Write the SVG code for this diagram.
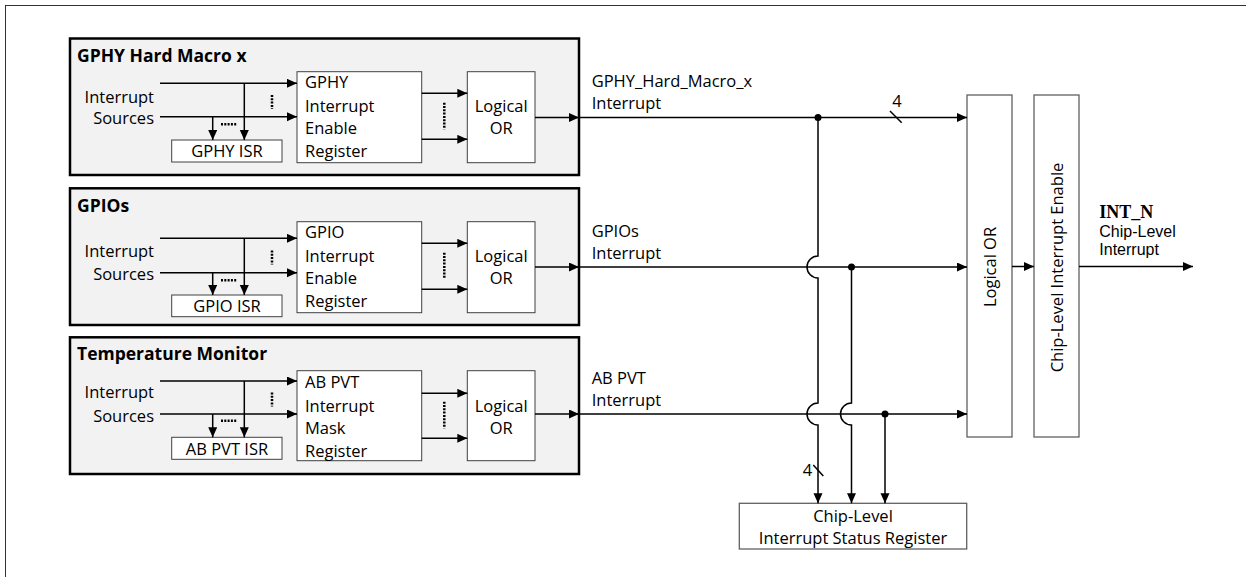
<svg xmlns="http://www.w3.org/2000/svg" width="1246" height="577" viewBox="0 0 1246 577">
<defs>
<marker id="arr" markerUnits="userSpaceOnUse" markerWidth="11" markerHeight="10" refX="10" refY="4.5" orient="auto">
<path d="M0,0 L10,4.5 L0,9 z" fill="#000"/>
</marker>
<style>
text{font-family:"Open Sans","Liberation Sans",sans-serif;font-size:16.5px;fill:#000}
.title{font-weight:bold;font-size:17.5px}
.mid{text-anchor:middle}
.end{text-anchor:end}
.tight{font-family:"Liberation Sans",Arial,sans-serif;font-size:16px}
.panel{fill:#f2f2f2;stroke:#000;stroke-width:2.5}
.box{fill:#fff;stroke:#404040;stroke-width:1}
.big{fill:#fff;stroke:#606060;stroke-width:1.3}
.ln{fill:none;stroke:#000;stroke-width:1.5}
.ar{marker-end:url(#arr)}
.dot{fill:none;stroke:#000;stroke-width:2.5;stroke-dasharray:2 1.3}
.serif{font-family:"Liberation Serif",serif;font-weight:bold;font-size:18px}
</style>
</defs>
<rect x="5.5" y="5.5" width="1260" height="600" fill="#fff" stroke="#333" stroke-width="1"/>

<g id="panel-gphy">
<rect class="panel" x="70" y="38.5" width="509" height="136.5"/>
<text class="title" x="77" y="61.7">GPHY Hard Macro x</text>
<text class="end" x="154" y="102.7">Interrupt</text>
<text class="end" x="154" y="124.3">Sources</text>
<g id="gphy-isr"><rect class="box" x="171.7" y="140" width="110.3" height="22"/><text class="mid" x="227" y="157.3">GPHY ISR</text></g>
<g id="gphy-ier"><rect class="box" x="297" y="71.7" width="124.7" height="91"/>
<text x="305" y="88.3">GPHY</text><text x="305" y="111.7">Interrupt</text><text x="305" y="134">Enable</text><text x="305" y="156.7">Register</text></g>
<g id="gphy-or"><rect class="box" x="467.3" y="71.7" width="67.7" height="91"/>
<text class="mid" x="501.2" y="111.7">Logical</text><text class="mid" x="501.2" y="134">OR</text></g>
</g>

<g id="panel-gpio">
<rect class="panel" x="70" y="188.3" width="509" height="136.7"/>
<text class="title" x="77" y="211.7">GPIOs</text>
<text class="end" x="154" y="256.7">Interrupt</text>
<text class="end" x="154" y="280">Sources</text>
<g id="gpio-isr"><rect class="box" x="171.7" y="295" width="110.3" height="21.7"/><text class="mid" x="227" y="311.7">GPIO ISR</text></g>
<g id="gpio-ier"><rect class="box" x="297" y="221.7" width="124.7" height="91"/>
<text x="305" y="238.3">GPIO</text><text x="305" y="261.7">Interrupt</text><text x="305" y="284">Enable</text><text x="305" y="306.7">Register</text></g>
<g id="gpio-or"><rect class="box" x="467.3" y="221.7" width="67.7" height="91"/>
<text class="mid" x="501.2" y="261.7">Logical</text><text class="mid" x="501.2" y="284">OR</text></g>
</g>

<g id="panel-temp">
<rect class="panel" x="70" y="337.3" width="509" height="136.7"/>
<text class="title" x="77" y="360">Temperature Monitor</text>
<text class="end" x="154" y="398.3">Interrupt</text>
<text class="end" x="154" y="421.7">Sources</text>
<g id="abpvt-isr"><rect class="box" x="171.7" y="437.3" width="110.3" height="22"/><text class="mid" x="227" y="455">AB PVT ISR</text></g>
<g id="abpvt-imr"><rect class="box" x="297" y="370.7" width="124.7" height="90"/>
<text x="305" y="388.3">AB PVT</text><text x="305" y="411.7">Interrupt</text><text x="305" y="434">Mask</text><text x="305" y="456.7">Register</text></g>
<g id="abpvt-or"><rect class="box" x="467.3" y="370.7" width="67.7" height="90"/>
<text class="mid" x="501.2" y="411.7">Logical</text><text class="mid" x="501.2" y="434">OR</text></g>
</g>

<g id="chip-or"><rect class="big" x="967" y="95" width="45" height="342"/>
<text class="mid" transform="translate(996,267) rotate(-90)">Logical OR</text></g>
<g id="chip-enable"><rect class="big" x="1034" y="95" width="45" height="342"/>
<text class="mid" transform="translate(1063,267.5) rotate(-90)">Chip-Level Interrupt Enable</text></g>
<g id="chip-isr"><rect class="big" x="739.3" y="503.3" width="227.4" height="45.7"/>
<text class="mid" x="853" y="521.7">Chip-Level</text><text class="mid" x="853" y="544">Interrupt Status Register</text></g>

<g id="labels">
<text x="591.7" y="86.7">GPHY_Hard_Macro_x</text><text x="591.7" y="109.3">Interrupt</text>
<text x="591.7" y="236.7">GPIOs</text><text x="591.7" y="259.3">Interrupt</text>
<text x="591.7" y="383.5">AB PVT</text><text x="591.7" y="406">Interrupt</text>
<text class="serif" x="1099.3" y="217.8">INT_N</text>
<text class="tight" x="1099.3" y="236.7">Chip-Level</text><text class="tight" x="1099.3" y="255">Interrupt</text>
<text class="mid" x="897" y="106.7">4</text>
<text class="mid" x="807.5" y="476">4</text>
</g>

<g id="connectors">
<path class="ln ar" d="M160,83.3 H297"/>
<path class="ln ar" d="M160,116.7 H297"/>
<path class="ln ar" d="M244.3,83.3 V140"/>
<path class="ln ar" d="M212.7,116.7 V140"/>
<path class="dot" d="M221,124.3 H236.7"/>
<path class="dot" d="M272,95 V109"/>
<path class="ln ar" d="M421.7,93.3 H467.3"/>
<path class="ln ar" d="M421.7,139.3 H467.3"/>
<path class="dot" d="M444.3,102.7 V129.3"/>
<path class="ln ar" d="M535,117.5 H579"/>
<path class="ln ar" d="M160,238.3 H297"/>
<path class="ln ar" d="M160,272.7 H297"/>
<path class="ln ar" d="M244.3,238.3 V295"/>
<path class="ln ar" d="M212.7,272.7 V295"/>
<path class="dot" d="M221,280.2 H236.7"/>
<path class="dot" d="M272,250.5 V264.5"/>
<path class="ln ar" d="M421.7,243.3 H467.3"/>
<path class="ln ar" d="M421.7,289.3 H467.3"/>
<path class="dot" d="M444.3,252.7 V278.3"/>
<path class="ln ar" d="M535,267 H579"/>
<path class="ln ar" d="M160,381 H297"/>
<path class="ln ar" d="M160,414 H297"/>
<path class="ln ar" d="M244.3,381 V437.3"/>
<path class="ln ar" d="M212.7,414 V437.3"/>
<path class="dot" d="M221,420.7 H236.7"/>
<path class="dot" d="M272,392.5 V406.5"/>
<path class="ln ar" d="M421.7,393.3 H467.3"/>
<path class="ln ar" d="M421.7,438.3 H467.3"/>
<path class="dot" d="M444.3,401.7 V428.3"/>
<path class="ln ar" d="M535,414 H579"/>
<path class="ln ar" d="M579,117.5 H967"/>
<path class="ln ar" d="M579,267 H967"/>
<path class="ln ar" d="M579,414 H967"/>
<path class="ln ar" d="M1012,266.5 H1034"/>
<path class="ln ar" d="M1079,266.5 H1193"/>
<path class="ln ar" d="M818,117.5 V256 A11,11 0 0 0 818,278 V403 A11,11 0 0 0 818,425 V503.3"/>
<path class="ln ar" d="M851.5,267 V403 A11,11 0 0 0 851.5,425 V503.3"/>
<path class="ln ar" d="M885,414 V503.3"/>
<circle cx="818" cy="117.5" r="3.5"/>
<circle cx="851.5" cy="267" r="3.5"/>
<circle cx="885" cy="414" r="3.5"/>
<path class="ln" d="M890,111 L901.7,122.7"/>
<path class="ln" d="M813.3,465 L823.3,476"/>
</g>
</svg>
